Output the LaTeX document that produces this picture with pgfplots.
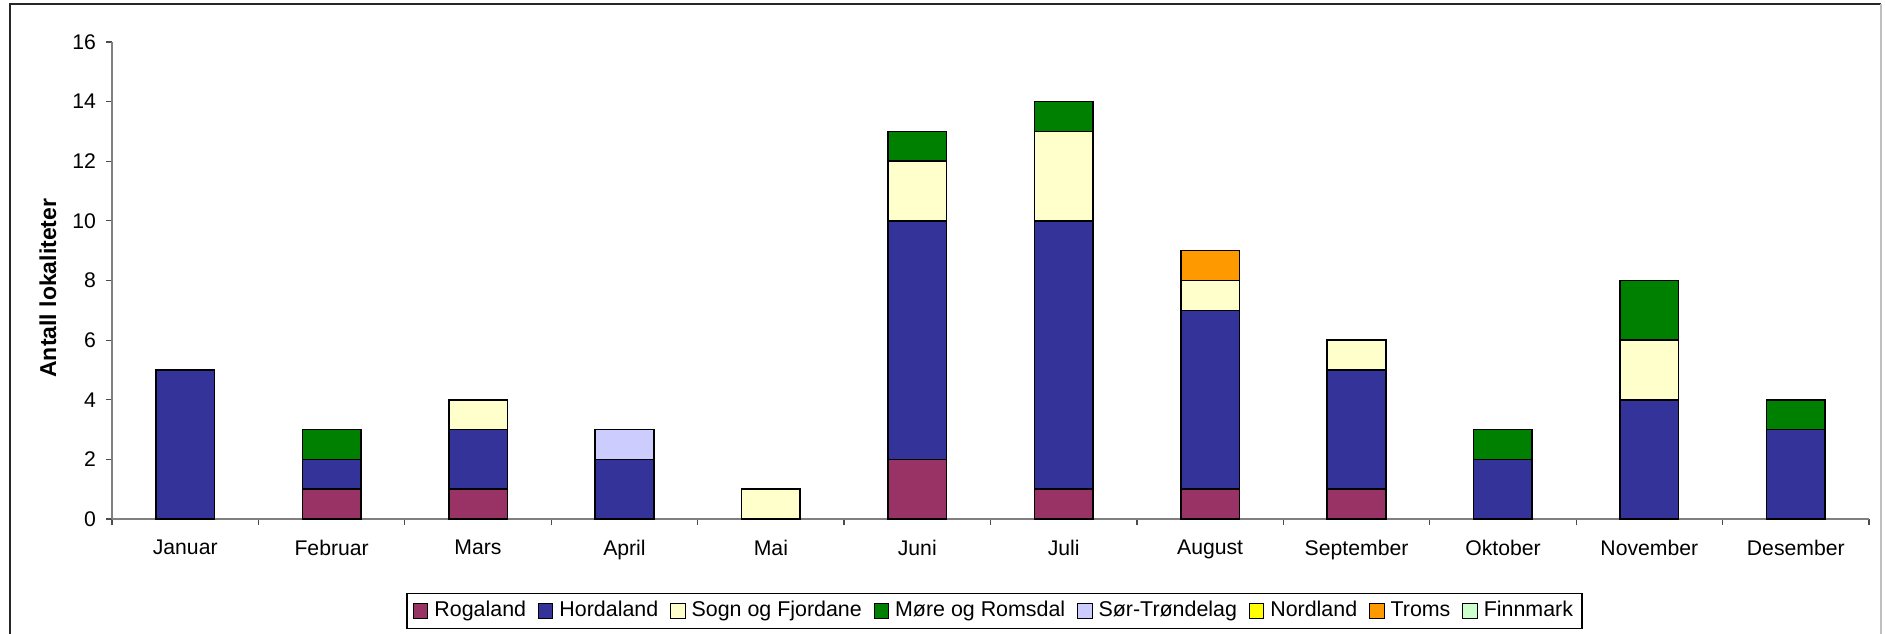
\documentclass[border=0pt]{standalone}
\usepackage{pgfplots}
\pgfplotsset{compat=1.18}
\usepackage{fontspec}
\setmainfont{Liberation Sans}
\definecolor{rog}{HTML}{993366}
\definecolor{hor}{HTML}{333399}
\definecolor{sog}{HTML}{FFFFCC}
\definecolor{more}{HTML}{008000}
\definecolor{sor}{HTML}{CCCCFF}
\definecolor{nor}{HTML}{FFFF00}
\definecolor{tro}{HTML}{FF9900}
\definecolor{fin}{HTML}{CCFFCC}
\begin{document}
\begin{tikzpicture}
\useasboundingbox (0,0) rectangle (942.5pt,316.5pt);
\fill[white] (0,0) rectangle (942.5pt,316.5pt);
\draw[black!85, line width=0.8pt] (5pt,-2pt) -- (5pt,314.5pt) -- (940.5pt,314.5pt);
\draw[black!25, line width=0.8pt] (940.5pt,314.5pt) -- (940.5pt,-2pt);
\begin{axis}[
  at={(56pt,57pt)}, anchor=south west,
  scale only axis, width=878.5pt, height=238.5pt,
  ybar stacked, bar width=0.4,
  xmin=-0.5, xmax=11.5, ymin=0, ymax=16,
  ytick={0,2,...,16},
  xtick={0,...,11},
  xticklabels={Januar,Februar,Mars,April,Mai,Juni,Juli,August,September,Oktober,November,Desember},
  minor xtick={-0.5,0.5,...,11.5},
  axis x line=bottom, axis y line=left,
  axis line style={-, draw=black!50, line width=0.7pt},
  tick align=outside, major tick length=3pt, minor tick length=3pt,
  tick style={black!70, line width=0.6pt},
  major x tick style={draw=none},
  /pgf/number format/assume math mode=true,
  ticklabel style={font=\fontsize{10.6}{12}\selectfont},
  xticklabel style={yshift=-4pt},
  yticklabel style={xshift=-1.5pt},
  ylabel={\textbf{Antall lokaliteter}},
  ylabel style={at={(axis description cs:-0.0365,0.484)}, anchor=center, font=\fontsize{11.5}{13}\selectfont},
  every axis plot/.append style={draw=black, line width=0.8pt},
  legend columns=8,
  legend style={at={(0.5023,-0.1929)}, anchor=center, draw=black, line width=0.6pt,
    font=\fontsize{10.7}{12}\selectfont, inner xsep=3pt, inner ysep=2pt,
    /tikz/every odd column/.append style={column sep=1.5pt},
    /tikz/every even column/.append style={column sep=4.5pt},
    nodes={inner xsep=1.5pt, text height=0.75em, text depth=0.2em}},
  legend cell align=left,
  legend image code/.code={\draw[#1, draw=black, line width=0.5pt] (0pt,-3.6pt) rectangle (7.2pt,3.6pt);},
]
\addplot[fill=rog] coordinates {(0,0) (1,1) (2,1) (3,0) (4,0) (5,2) (6,1) (7,1) (8,1) (9,0) (10,0) (11,0)};
\addlegendentry{Rogaland}
\addplot[fill=hor] coordinates {(0,5) (1,1) (2,2) (3,2) (4,0) (5,8) (6,9) (7,6) (8,4) (9,2) (10,4) (11,3)};
\addlegendentry{Hordaland}
\addplot[fill=sog] coordinates {(0,0) (1,0) (2,1) (3,0) (4,1) (5,2) (6,3) (7,1) (8,1) (9,0) (10,2) (11,0)};
\addlegendentry{Sogn og Fjordane}
\addplot[fill=more] coordinates {(0,0) (1,1) (2,0) (3,0) (4,0) (5,1) (6,1) (7,0) (8,0) (9,1) (10,2) (11,1)};
\addlegendentry{Møre og Romsdal}
\addplot[fill=sor] coordinates {(0,0) (1,0) (2,0) (3,1) (4,0) (5,0) (6,0) (7,0) (8,0) (9,0) (10,0) (11,0)};
\addlegendentry{Sør-Trøndelag}
\addplot[fill=nor] coordinates {(0,0) (1,0) (2,0) (3,0) (4,0) (5,0) (6,0) (7,0) (8,0) (9,0) (10,0) (11,0)};
\addlegendentry{Nordland}
\addplot[fill=tro] coordinates {(0,0) (1,0) (2,0) (3,0) (4,0) (5,0) (6,0) (7,1) (8,0) (9,0) (10,0) (11,0)};
\addlegendentry{Troms}
\addplot[fill=fin] coordinates {(0,0) (1,0) (2,0) (3,0) (4,0) (5,0) (6,0) (7,0) (8,0) (9,0) (10,0) (11,0)};
\addlegendentry{Finnmark}
\end{axis}
\end{tikzpicture}
\end{document}
